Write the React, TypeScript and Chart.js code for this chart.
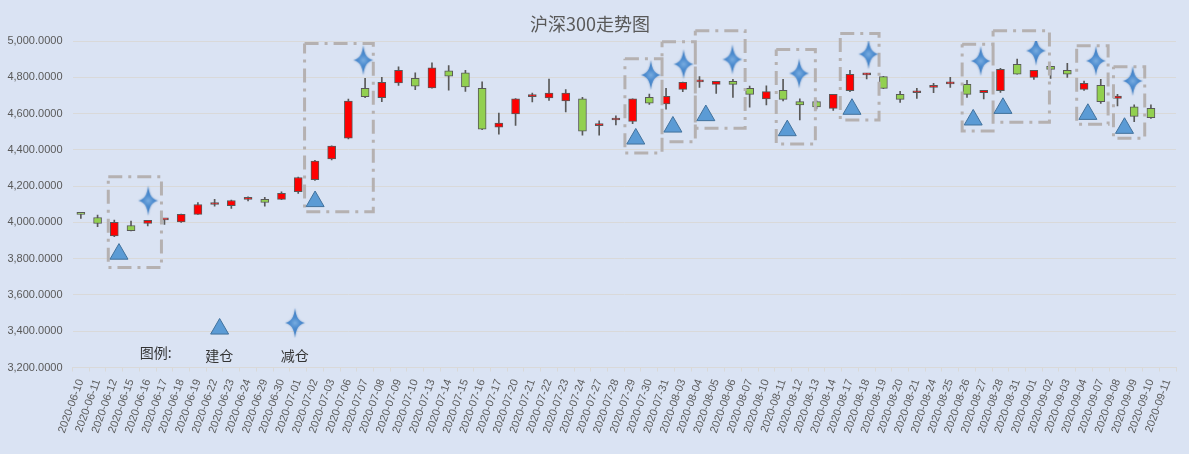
import React, { useEffect, useRef } from 'react';
import { Chart, registerables } from 'chart.js';

Chart.register(...registerables);

const dates = [
  '2020-06-10', '2020-06-11', '2020-06-12', '2020-06-15', '2020-06-16', '2020-06-17', '2020-06-18', '2020-06-19',
  '2020-06-22', '2020-06-23', '2020-06-24', '2020-06-29', '2020-06-30', '2020-07-01', '2020-07-02', '2020-07-03',
  '2020-07-06', '2020-07-07', '2020-07-08', '2020-07-09', '2020-07-10', '2020-07-13', '2020-07-14', '2020-07-15',
  '2020-07-16', '2020-07-17', '2020-07-20', '2020-07-21', '2020-07-22', '2020-07-23', '2020-07-24', '2020-07-27',
  '2020-07-28', '2020-07-29', '2020-07-30', '2020-07-31', '2020-08-03', '2020-08-04', '2020-08-05', '2020-08-06',
  '2020-08-07', '2020-08-10', '2020-08-11', '2020-08-12', '2020-08-13', '2020-08-14', '2020-08-17', '2020-08-18',
  '2020-08-19', '2020-08-20', '2020-08-21', '2020-08-24', '2020-08-25', '2020-08-26', '2020-08-27', '2020-08-28',
  '2020-08-31', '2020-09-01', '2020-09-02', '2020-09-03', '2020-09-04', '2020-09-07', '2020-09-08', '2020-09-09',
  '2020-09-10', '2020-09-11',
];

// OHLC (09-11 has no candle)
const openP = [
  4045, 4027, 3926, 3983, 3994, 4014, 4003, 4044, 4099, 4092,
  4127, 4127, 4127, 4169, 4236, 4350, 4464, 4739, 4688, 4769,
  4795, 4742, 4836, 4825, 4740, 4526, 4598, 4694, 4686, 4670,
  4681, 4534, 4565, 4557, 4690, 4653, 4734, 4775, 4761, 4778,
  4739, 4681, 4728, 4666, 4666, 4629, 4727, 4814, 4804, 4706,
  4715, 4745, 4764, 4761, 4716, 4727, 4872, 4800, 4861, 4839,
  4734, 4756, 4684, 4637, 4629, null,
];
const highP = [
  4046, 4040, 4013, 4007, 4011, 4016, 4046, 4110, 4127, 4123,
  4141, 4138, 4169, 4250, 4342, 4423, 4680, 4794, 4800, 4858,
  4825, 4880, 4865, 4839, 4775, 4603, 4683, 4714, 4791, 4732,
  4690, 4561, 4588, 4681, 4708, 4740, 4774, 4804, 4778, 4789,
  4752, 4754, 4789, 4681, 4670, 4706, 4839, 4822, 4806, 4723,
  4739, 4767, 4800, 4783, 4728, 4850, 4901, 4839, 4861, 4877,
  4780, 4789, 4706, 4648, 4648, null,
];
const lowP = [
  4022, 3976, 3921, 3953, 3981, 3989, 4000, 4044, 4090, 4077,
  4119, 4090, 4125, 4160, 4232, 4345, 4460, 4688, 4666, 4756,
  4732, 4740, 4729, 4723, 4512, 4487, 4535, 4664, 4673, 4609,
  4481, 4481, 4538, 4544, 4651, 4625, 4721, 4745, 4712, 4690,
  4635, 4648, 4670, 4565, 4626, 4618, 4721, 4791, 4737, 4662,
  4684, 4716, 4745, 4690, 4681, 4717, 4817, 4789, 4794, 4800,
  4728, 4657, 4642, 4556, 4574, null,
];
const closeP = [
  4044, 3994, 4000, 3954, 4011, 4015, 4044, 4099, 4100, 4121,
  4138, 4110, 4160, 4248, 4339, 4421, 4669, 4693, 4772, 4839,
  4751, 4852, 4806, 4747, 4514, 4548, 4681, 4696, 4714, 4714,
  4503, 4536, 4567, 4681, 4658, 4696, 4772, 4777, 4778, 4761,
  4706, 4721, 4679, 4648, 4637, 4706, 4817, 4816, 4739, 4679,
  4717, 4756, 4766, 4706, 4728, 4844, 4817, 4839, 4844, 4817,
  4767, 4666, 4697, 4585, 4578, null,
];

// 建仓 (triangles) and 减仓 (stars): position in category index units, price
const buyIdx = [2.28, 14.01, 33.19, 35.41, 37.38, 42.25, 46.12, 53.37, 55.15, 60.23, 62.42];
const buyValue = [3826, 4116, 4461, 4527, 4590, 4507, 4625, 4566, 4630, 4597, 4520];
const sellIdx = [4.03, 16.89, 34.09, 36.05, 38.97, 42.96, 47.11, 53.82, 57.13, 60.71, 62.91];
const sellValue = [4120, 4895, 4813, 4873, 4899, 4822, 4928, 4890, 4947, 4891, 4780];

// dash-dot frames
const boxFrom = [1.64, 13.38, 32.54, 34.76, 36.75, 41.59, 45.42, 52.71, 54.56, 59.56, 61.76];
const boxTo = [4.82, 17.49, 34.76, 36.75, 39.73, 43.93, 47.74, 54.56, 57.93, 61.44, 63.63];
const boxTop = [4252, 4987, 4902, 4996, 5057, 4954, 5042, 4982, 5057, 4974, 4858];
const boxBottom = [3751, 4059, 4383, 4445, 4519, 4432, 4565, 4504, 4552, 4541, 4464];

// legend inside the plot
const legendLabels = ['图例:', '建仓', '减仓'];
const legendTextIdx = [4.47, 8.28, 12.8];
const legendTextValue = [3279, 3266, 3266];
const legendMarkIdx = [8.3, 12.81];
const legendMarkValue = [3413, 3446];

const UP = '#ff0000';
const DOWN = '#92d050';
const EDGE = '#595959';

const makeStar = () => {
  const c = document.createElement('canvas');
  c.width = 24;
  c.height = 34;
  const g = c.getContext('2d')!;
  const cx = 12, cy = 17;
  g.shadowColor = 'rgba(60,110,170,0.55)';
  g.shadowBlur = 2;
  const grad = g.createRadialGradient(cx, cy, 0, cx, cy, 13);
  grad.addColorStop(0, '#78ace0');
  grad.addColorStop(0.4, '#4d8ccf');
  grad.addColorStop(1, '#3f7dc2');
  g.fillStyle = grad;
  g.beginPath();
  g.moveTo(cx, cy - 15);
  g.quadraticCurveTo(cx + 1.2, cy - 1.2, cx + 10, cy);
  g.quadraticCurveTo(cx + 1.2, cy + 1.2, cx, cy + 15);
  g.quadraticCurveTo(cx - 1.2, cy + 1.2, cx - 10, cy);
  g.quadraticCurveTo(cx - 1.2, cy - 1.2, cx, cy - 15);
  g.closePath();
  g.fill();
  return c;
};

const legendTextPlugin = {
  id: 'legendText',
  afterDatasetsDraw(chart: any) {
    const { ctx, scales } = chart;
    ctx.save();
    ctx.font = '14px "Noto Sans CJK SC"';
    ctx.fillStyle = '#333333';
    ctx.textAlign = 'center';
    ctx.textBaseline = 'middle';
    legendLabels.forEach((t, i) => {
      ctx.fillText(t, scales.x2.getPixelForValue(legendTextIdx[i]), scales.y.getPixelForValue(legendTextValue[i]));
    });
    ctx.restore();
  },
};

const CandleChart: React.FC = () => {
  const chartRef = useRef<HTMLCanvasElement>(null);
  const chartInstanceRef = useRef<Chart | null>(null);

  useEffect(() => {
    document.body.style.margin = '0';
    if (!chartRef.current) return;
    const ctx = chartRef.current.getContext('2d');
    if (!ctx) return;

    if (chartInstanceRef.current) {
      chartInstanceRef.current.destroy();
      chartInstanceRef.current = null;
    }

    const star = makeStar();

    const bodies = dates.map((_, i) => (openP[i] == null ? null : [openP[i], closeP[i]]));
    const wicks = dates.map((_, i) => (lowP[i] == null ? null : [lowP[i], highP[i]]));
    const bodyColors = dates.map((_, i) => ((closeP[i] ?? 0) >= (openP[i] ?? 0) ? UP : DOWN));

    const boxPoints: any[] = [];
    boxFrom.forEach((x1, i) => {
      const x2 = boxTo[i];
      const t = boxTop[i];
      const b = boxBottom[i];
      boxPoints.push({ x: x1, y: t }, { x: x2, y: t }, { x: x2, y: b }, { x: x1, y: b }, { x: x1, y: t }, { x: x1, y: null });
    });

    const buyPoints = buyIdx.map((x, i) => ({ x, y: buyValue[i] }));
    buyPoints.push({ x: legendMarkIdx[0], y: legendMarkValue[0] });
    const sellPoints = sellIdx.map((x, i) => ({ x, y: sellValue[i] }));
    sellPoints.push({ x: legendMarkIdx[1], y: legendMarkValue[1] });

    chartInstanceRef.current = new Chart(ctx, {
      type: 'bar',
      data: {
        labels: dates,
        datasets: [
          {
            type: 'scatter',
            label: '建仓',
            xAxisID: 'x2',
            yAxisID: 'y',
            data: buyPoints,
            pointStyle: 'triangle',
            pointRadius: 10.4,
            backgroundColor: '#5b9bd5',
            borderColor: '#41719c',
            borderWidth: 1,
            order: 0,
          },
          {
            type: 'scatter',
            label: '减仓',
            xAxisID: 'x2',
            yAxisID: 'y',
            data: sellPoints,
            pointStyle: star,
            pointRadius: 12,
            order: 0,
          },
          {
            type: 'line',
            label: 'frames',
            xAxisID: 'x2',
            yAxisID: 'y',
            data: boxPoints,
            borderColor: '#b5b1b1',
            borderWidth: 3,
            borderDash: [14, 6, 3, 6],
            pointRadius: 0,
            spanGaps: false,
            fill: false,
            tension: 0,
            clip: false,
            order: 1,
          },
          {
            type: 'bar',
            label: 'body',
            data: bodies as any,
            backgroundColor: bodyColors,
            borderColor: EDGE,
            borderWidth: 1,
            borderSkipped: false,
            barThickness: 8,
            minBarLength: 2,
            grouped: false,
            order: 2,
          },
          {
            type: 'bar',
            label: 'wick',
            data: wicks as any,
            backgroundColor: EDGE,
            borderWidth: 0,
            barThickness: 1,
            grouped: false,
            order: 3,
          },
        ],
      },
      options: {
        animation: false,
        responsive: true,
        maintainAspectRatio: false,
        layout: { padding: { left: 0, right: 9, top: 13, bottom: 0 } },
        plugins: {
          legend: { display: false },
          tooltip: { enabled: false },
          title: {
            display: true,
            text: '沪深300走势图',
            color: '#595959',
            font: { family: '"Noto Sans CJK SC"', size: 18, weight: 'normal' },
            padding: { top: 0, bottom: 6.5 },
          },
        },
        scales: {
          x: {
            type: 'category',
            offset: true,
            grid: {
              display: true,
              drawOnChartArea: false,
              drawTicks: true,
              tickLength: 4,
              color: '#d9d9d9',
              offset: true,
            },
            border: { display: true, color: '#d9d9d9' },
            ticks: {
              autoSkip: false,
              minRotation: 70,
              maxRotation: 70,
              padding: 6,
              color: '#595959',
              font: { family: '"Liberation Sans"', size: 11 },
            },
            afterFit: (scale: any) => {
              scale.height = 86.5;
            },
          },
          x2: {
            type: 'linear',
            min: -0.5,
            max: 65.5,
            offset: false,
            grid: { offset: false },
            display: false,
          },
          y: {
            min: 3200,
            max: 5000,
            ticks: {
              stepSize: 200,
              padding: 10,
              color: '#595959',
              font: { family: '"Liberation Sans"', size: 11 },
              callback: (v: any) =>
                Number(v).toLocaleString('en-US', { minimumFractionDigits: 4, maximumFractionDigits: 4 }),
            },
            grid: { color: '#d9d9d9', drawTicks: false },
            border: { display: false },
            afterFit: (scale: any) => {
              scale.width = 72.5;
            },
          },
        },
      },
      plugins: [legendTextPlugin],
    } as any);

    return () => {
      if (chartInstanceRef.current) {
        chartInstanceRef.current.destroy();
        chartInstanceRef.current = null;
      }
    };
  }, []);

  return (
    <div style={{ width: 1189, height: 454, background: '#dae3f3', position: 'relative' }}>
      <canvas ref={chartRef} />
    </div>
  );
};

export default function App() {
  return <CandleChart />;
}
